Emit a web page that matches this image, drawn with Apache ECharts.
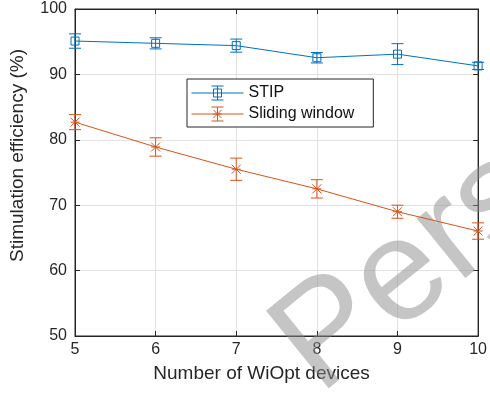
<!DOCTYPE html>
<html><head><meta charset="utf-8">
<script src="https://cdn.jsdelivr.net/npm/echarts@6/dist/echarts.min.js"></script>
<style>html,body{margin:0;padding:0;background:#fff}#c{width:490px;height:394px}</style>
</head><body><div id="c"></div>
<script>
const devices = [5, 6, 7, 8, 9, 10];
const stipMean = [95.1, 94.75, 94.4, 92.55, 93.1, 91.3];
const stipErr  = [1.1, 0.85, 1.0, 0.8, 1.6, 0.55];
const swMean   = [82.7, 78.9, 75.5, 72.5, 69.0, 66.05];
const swErr    = [1.15, 1.4, 1.7, 1.4, 1.0, 1.25];
const yTicks = [50, 60, 70, 80, 90, 100];
const xTicks = [5, 6, 7, 8, 9, 10];

const BLUE = '#0072BD', ORANGE = '#D95319';
const FONT = 'Liberation Sans, Arial, sans-serif';

function errData(mean, err) {
  return devices.map((d, i) => [d, mean[i], mean[i] - err[i], mean[i] + err[i]]);
}
function lineData(mean) { return devices.map((d, i) => [d, mean[i]]); }

function errRender(color, marker) {
  return function (params, api) {
    const p = api.coord([api.value(0), api.value(1)]);
    const lo = api.coord([api.value(0), api.value(2)]);
    const hi = api.coord([api.value(0), api.value(3)]);
    const cw = 6;
    const st = { stroke: color, lineWidth: 1, fill: null };
    const ch = [
      { type: 'line', shape: { x1: p[0], y1: hi[1], x2: p[0], y2: lo[1] }, style: st },
      { type: 'line', shape: { x1: p[0] - cw, y1: hi[1], x2: p[0] + cw, y2: hi[1] }, style: st },
      { type: 'line', shape: { x1: p[0] - cw, y1: lo[1], x2: p[0] + cw, y2: lo[1] }, style: st }
    ];
    if (marker === 'square') {
      ch.push({ type: 'rect', shape: { x: p[0] - 4, y: p[1] - 4, width: 8, height: 8 }, style: st });
    } else {
      const r = 4.5;
      ch.push({ type: 'line', shape: { x1: p[0] - r, y1: p[1] - r, x2: p[0] + r, y2: p[1] + r }, style: st });
      ch.push({ type: 'line', shape: { x1: p[0] - r, y1: p[1] + r, x2: p[0] + r, y2: p[1] - r }, style: st });
      ch.push({ type: 'line', shape: { x1: p[0] - r, y1: p[1], x2: p[0] + r, y2: p[1] }, style: st });
    }
    return { type: 'group', children: ch };
  };
}

const stipIcon = 'path://M0,8L52,8M20,1L32,1M26,1L26,15M20,15L32,15M22,4L30,4L30,12L22,12Z';
const swIcon = 'path://M0,8L52,8M20,1L32,1M26,1L26,15M20,15L32,15M22,4L30,12M30,4L22,12M22,8L30,8';

const chart = echarts.init(document.getElementById('c'), null, { renderer: 'canvas' });
chart.setOption({
  animation: false,
  backgroundColor: '#fff',
  textStyle: { fontFamily: FONT },
  grid: { left: 75, right: 6, top: 9, bottom: 58, show: true, borderColor: '#262626', borderWidth: 1, backgroundColor: 'transparent' },
  graphic: [{
    type: 'text', z: 1, rotation: 0.68, originX: 0, originY: 0,
    x: 340, y: 421,
    style: { text: 'Pers', font: '145px "Liberation Sans", Arial', fill: 'rgba(140,140,140,0.5)', verticalAlign: 'bottom', align: 'left' },
    silent: true
  }],
  legend: {
    orient: 'vertical', left: 187, top: 79,
    padding: [6, 19, 5, 4], itemGap: 5, itemWidth: 52, itemHeight: 14,
    backgroundColor: '#fff', borderColor: '#262626', borderWidth: 1, borderRadius: 0,
    textStyle: { fontSize: 16, color: '#111', fontFamily: FONT },
    data: [
      { name: 'STIP', icon: stipIcon, itemStyle: { color: 'transparent', borderColor: BLUE, borderWidth: 1 } },
      { name: 'Sliding window', icon: swIcon, itemStyle: { color: 'transparent', borderColor: ORANGE, borderWidth: 1 } }
    ],
    z: 10
  },
  xAxis: [{
    type: 'value', min: 5, max: 10, interval: 1,
    name: 'Number of WiOpt devices', nameLocation: 'middle', nameGap: 28,
    nameTextStyle: { fontSize: 19, color: '#262626', padding: [0, 30, 0, 0] },
    axisLine: { show: true, lineStyle: { color: '#262626', width: 1 } },
    axisTick: { show: true, inside: true, length: 5, lineStyle: { color: '#262626' } },
    axisLabel: { fontSize: 16, color: '#262626', margin: 6, formatter: v => xTicks.includes(v) ? String(v) : '' },
    splitLine: { show: true, lineStyle: { color: '#e2e2e2', width: 1 } }
  }, {
    type: 'value', position: 'top', min: 5, max: 10, interval: 1,
    axisLine: { show: true, lineStyle: { color: '#262626' } },
    axisTick: { show: true, inside: true, length: 5, lineStyle: { color: '#262626' } },
    axisLabel: { show: false }, splitLine: { show: false }
  }],
  yAxis: [{
    type: 'value', min: 50, max: 100, interval: 10,
    name: 'Stimulation efficiency (%)', nameLocation: 'middle', nameGap: 48,
    nameTextStyle: { fontSize: 19, color: '#262626', padding: [0, 0, 0, 34] },
    axisLine: { show: true, lineStyle: { color: '#262626', width: 1 } },
    axisTick: { show: true, inside: true, length: 5, lineStyle: { color: '#262626' } },
    axisLabel: { fontSize: 16, color: '#262626', margin: 8, formatter: v => yTicks.includes(v) ? String(v) : '' },
    splitLine: { show: true, lineStyle: { color: '#e2e2e2', width: 1 } }
  }, {
    type: 'value', position: 'right', min: 50, max: 100, interval: 10,
    axisLine: { show: true, lineStyle: { color: '#262626' } },
    axisTick: { show: true, inside: true, length: 5, lineStyle: { color: '#262626' } },
    axisLabel: { show: false }, splitLine: { show: false }
  }],
  series: [
    { name: 'STIP', type: 'line', data: lineData(stipMean), symbol: 'none', lineStyle: { color: BLUE, width: 1 }, itemStyle: { color: BLUE }, z: 3 },
    { name: 'Sliding window', type: 'line', data: lineData(swMean), symbol: 'none', lineStyle: { color: ORANGE, width: 1 }, itemStyle: { color: ORANGE }, z: 3 },
    { name: 'STIP', type: 'custom', data: errData(stipMean, stipErr), renderItem: errRender(BLUE, 'square'), encode: { x: 0, y: [1, 2, 3] }, z: 4 },
    { name: 'Sliding window', type: 'custom', data: errData(swMean, swErr), renderItem: errRender(ORANGE, 'star'), encode: { x: 0, y: [1, 2, 3] }, z: 4 }
  ]
});
</script></body></html>
